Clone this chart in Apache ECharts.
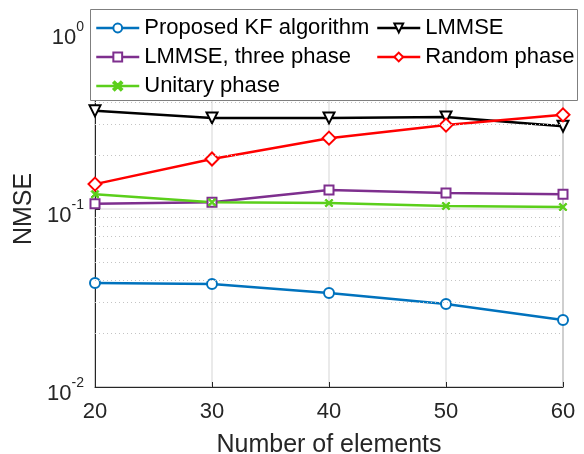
<!DOCTYPE html>
<html>
<head>
<meta charset="utf-8">
<script src="https://cdn.jsdelivr.net/npm/echarts@6/dist/echarts.min.js"></script>
<style>
  html, body { margin: 0; padding: 0; background: #fff; }
  #chart { width: 584px; height: 454px; }
</style>
</head>
<body>
<div id="chart"></div>
<script>
// 横轴：阵元数
const elements = [20, 30, 40, 50, 60]
// 各算法 NMSE
const kfValues = [0.0384, 0.0379, 0.0337, 0.0293, 0.0238]
const lmmseValues = [0.356, 0.325, 0.325, 0.329, 0.292]
const threePhaseValues = [0.107, 0.109, 0.128, 0.123, 0.121]
const randomPhaseValues = [0.138, 0.191, 0.250, 0.296, 0.338]
const unitaryPhaseValues = [0.121, 0.109, 0.108, 0.104, 0.1026]
// 对数轴次网格线位置
const minorGrid = [0.02, 0.03, 0.04, 0.05, 0.06, 0.07, 0.08, 0.09,
  0.2, 0.3, 0.4, 0.5, 0.6, 0.7, 0.8, 0.9]

const FONT = 'Liberation Sans, Arial, Helvetica, sans-serif'
const xSymbol = 'path://M0,1.5L1.5,0L5,3.5L8.5,0L10,1.5L6.5,5L10,8.5L8.5,10L5,6.5L1.5,10L0,8.5L3.5,5Z'

function pairs(ys) {
  return elements.map((x, i) => [x, ys[i]])
}

function lineSeries(name, ys, color, symbol, size, extra) {
  return Object.assign({
    name: name,
    type: 'line',
    data: pairs(ys),
    symbol: symbol,
    symbolSize: size,
    showAllSymbol: true,
    lineStyle: { color: color, width: 2.5 },
    itemStyle: { color: color, borderColor: color, borderWidth: 2.5 },
    emphasis: { disabled: true },
    z: 3
  }, extra || {})
}

const myChart = echarts.init(document.getElementById('chart'), null, { renderer: 'canvas' })

const legendText = { fontFamily: FONT, fontSize: 22, color: '#000' }

const option = {
  animation: false,
  backgroundColor: '#fff',
  grid: {
    left: 95, right: 21, top: 31, bottom: 67,
    show: true, borderColor: '#262626', borderWidth: 1,
    outerBoundsMode: 'none'
  },
  graphic: [{
    type: 'rect',
    z: 50,
    shape: { x: 90.5, y: 9.5, width: 487, height: 91 },
    style: { fill: '#fff', stroke: '#7f7f7f', lineWidth: 1 }
  }],
  legend: [{
    data: ['Proposed KF algorithm', 'LMMSE, three phase', 'Unitary phase'],
    orient: 'vertical',
    left: 95, top: 17, padding: 0,
    itemWidth: 43, itemHeight: 11, itemGap: 7,
    textStyle: legendText,
    lineStyle: { width: 2.5 },
    selectedMode: false,
    z: 60
  }, {
    data: ['LMMSE', 'Random phase'],
    orient: 'vertical',
    left: 376, top: 17, padding: 0,
    itemWidth: 43, itemHeight: 11, itemGap: 7,
    textStyle: legendText,
    lineStyle: { width: 2.5 },
    selectedMode: false,
    z: 60
  }],
  xAxis: {
    type: 'value',
    min: 20, max: 60, interval: 10,
    name: 'Number of elements',
    nameLocation: 'middle',
    nameGap: 46,
    nameTextStyle: { fontFamily: FONT, fontSize: 25, color: '#262626' },
    axisLine: { lineStyle: { color: '#262626', width: 1 } },
    axisTick: { inside: true, length: 5, lineStyle: { color: '#262626' } },
    axisLabel: { fontFamily: FONT, fontSize: 22, color: '#262626', margin: 14 },
    splitLine: { show: true, lineStyle: { color: '#e3e3e3', width: 1.5 } }
  },
  yAxis: {
    type: 'log',
    logBase: 10,
    min: 0.01, max: 1,
    name: 'NMSE',
    nameLocation: 'middle',
    nameGap: 58,
    nameTextStyle: { fontFamily: FONT, fontSize: 25, color: '#262626' },
    axisLine: { show: true, lineStyle: { color: '#262626', width: 1 } },
    axisTick: { inside: true, length: 5, lineStyle: { color: '#262626' } },
    axisLabel: {
      margin: 11,
      formatter: v => '{b|10}{s|' + Math.round(Math.log10(v)) + '}',
      rich: {
        b: { fontFamily: FONT, fontSize: 22, color: '#262626', padding: [14, 0, 0, 0] },
        s: { fontFamily: FONT, fontSize: 14, color: '#262626', padding: [0, 0, 8, 0] }
      }
    },
    splitLine: { show: true, lineStyle: { color: '#e3e3e3', width: 1.5 } }
  },
  series: [
    lineSeries('Proposed KF algorithm', kfValues, '#0072BD', 'emptyCircle', 10),
    lineSeries('LMMSE', lmmseValues, '#000000', 'emptyTriangle', 11, { symbolRotate: 180 }),
    lineSeries('LMMSE, three phase', threePhaseValues, '#7E2F8E', 'emptyRect', 9),
    lineSeries('Random phase', randomPhaseValues, '#FF0000', 'emptyDiamond', 13),
    lineSeries('Unitary phase', unitaryPhaseValues, '#5BCF1B', xSymbol, 8, {
      itemStyle: { color: '#5BCF1B', borderColor: '#5BCF1B', borderWidth: 1 }
    }),
    {
      // 次网格线（点线）
      type: 'line',
      data: [],
      silent: true,
      z: 1,
      markLine: {
        silent: true,
        symbol: 'none',
        label: { show: false },
        lineStyle: { color: '#c4c4c4', type: [1, 3], width: 1 },
        data: minorGrid.map(v => ({ yAxis: v }))
      }
    }
  ]
}

myChart.setOption(option)
window.addEventListener('resize', () => { myChart && myChart.resize() })
</script>
</body>
</html>
